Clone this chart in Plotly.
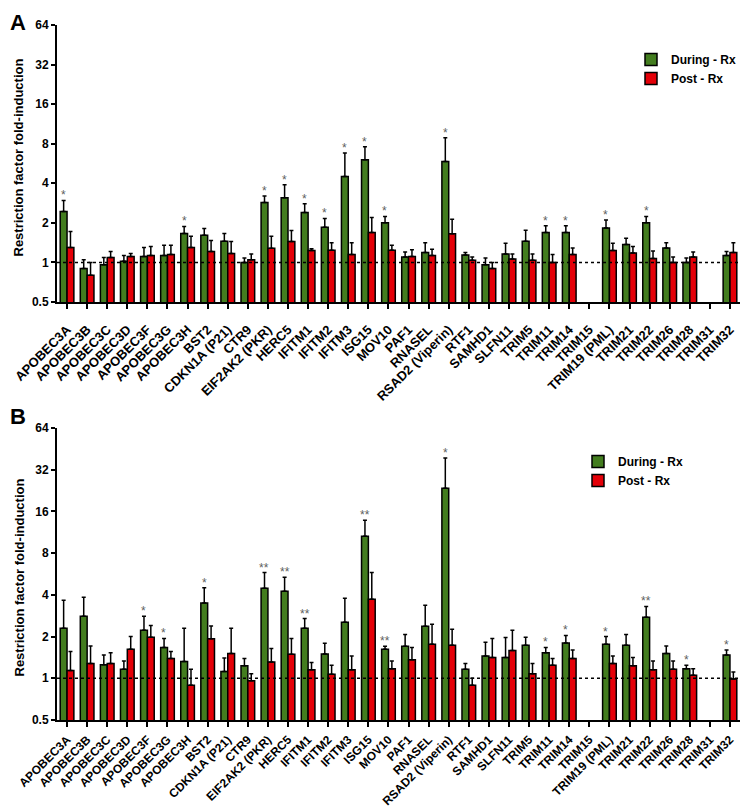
import plotly.graph_objects as go
import math

categories = ["APOBEC3A", "APOBEC3B", "APOBEC3C", "APOBEC3D", "APOBEC3F", "APOBEC3G", "APOBEC3H",
              "BST2", "CDKN1A (P21)", "CTR9", "EIF2AK2 (PKR)", "HERC5", "IFITM1", "IFITM2", "IFITM3",
              "ISG15", "MOV10", "PAF1", "RNASEL", "RSAD2 (Viperin)", "RTF1", "SAMHD1", "SLFN11",
              "TRIM5", "TRIM11", "TRIM14", "TRIM15", "TRIM19 (PML)", "TRIM21", "TRIM22", "TRIM26",
              "TRIM28", "TRIM31", "TRIM32"]

# Panel A
a_during     = [2.44, 0.90, 0.96, 1.02, 1.11, 1.13, 1.66, 1.61, 1.45, 1.00, 2.86, 3.10, 2.40, 1.85, 4.50, 6.05, 2.00,
                1.10, 1.19, 5.85, 1.14, 0.96, 1.16, 1.45, 1.69, 1.69, None, 1.83, 1.37, 2.00, 1.29, 1.00, None, 1.13]
a_during_top = [2.96, 1.05, 1.09, 1.13, 1.30, 1.35, 1.88, 1.81, 1.66, 1.08, 3.20, 3.90, 2.80, 2.16, 6.80, 7.60, 2.24,
                1.20, 1.41, 8.90, 1.19, 1.08, 1.40, 1.76, 1.90, 1.90, None, 2.10, 1.53, 2.24, 1.41, 1.08, None, 1.21]
a_post       = [1.30, 0.80, 1.09, 1.11, 1.13, 1.15, 1.30, 1.21, 1.17, 1.05, 1.28, 1.44, 1.23, 1.24, 1.15, 1.69, 1.24,
                1.11, 1.13, 1.65, 1.04, 0.90, 1.06, 1.04, 1.00, 1.15, None, 1.23, 1.18, 1.07, 1.00, 1.10, None, 1.19]
a_post_top   = [1.72, 1.00, 1.21, 1.17, 1.32, 1.35, 1.58, 1.47, 1.44, 1.16, 1.58, 1.75, 1.27, 1.41, 1.41, 2.20, 1.35,
                1.25, 1.26, 2.13, 1.10, 1.00, 1.16, 1.16, 1.15, 1.29, None, 1.40, 1.32, 1.22, 1.10, 1.20, None, 1.41]
a_sig = ["*", "", "", "", "", "", "*", "", "", "", "*", "*", "*", "*", "*", "*", "*",
         "", "", "*", "", "", "", "", "*", "*", "", "*", "", "*", "", "", "", ""]

# Panel B
b_during     = [2.30, 2.80, 1.25, 1.16, 2.22, 1.67, 1.32, 3.50, 1.12, 1.23, 4.46, 4.25, 2.30, 1.50, 2.54, 10.6, 1.62,
                1.70, 2.37, 23.5, 1.16, 1.45, 1.41, 1.73, 1.53, 1.80, None, 1.76, 1.73, 2.76, 1.51, 1.17, None, 1.47]
b_during_top = [3.66, 3.84, 1.47, 1.33, 2.80, 1.94, 2.30, 4.50, 1.40, 1.39, 5.80, 5.36, 2.70, 1.79, 3.78, 13.8, 1.70,
                2.07, 3.36, 38.8, 1.28, 1.82, 1.97, 1.98, 1.67, 2.04, None, 2.00, 2.07, 3.30, 1.71, 1.24, None, 1.60]
b_post       = [1.14, 1.28, 1.28, 1.62, 1.98, 1.39, 0.89, 1.93, 1.51, 0.96, 1.31, 1.49, 1.15, 1.07, 1.15, 3.72, 1.17,
                1.36, 1.76, 1.73, 0.89, 1.41, 1.59, 1.08, 1.24, 1.39, None, 1.28, 1.23, 1.15, 1.16, 1.05, None, 0.99]
b_post_top   = [1.56, 1.71, 1.53, 2.00, 2.40, 1.56, 1.16, 2.38, 2.30, 1.08, 1.64, 1.94, 1.30, 1.24, 1.45, 5.80, 1.33,
                1.67, 2.45, 2.26, 1.00, 1.94, 2.22, 1.28, 1.39, 1.60, None, 1.45, 1.41, 1.33, 1.33, 1.17, None, 1.11]
b_sig = ["", "", "", "", "*", "*", "", "*", "", "", "**", "**", "**", "", "", "**", "**",
         "", "", "*", "", "", "", "", "*", "*", "", "*", "", "**", "", "*", "", "*"]

series_names = ["During - Rx", "Post - Rx"]
tick_vals = [0.5, 1, 2, 4, 8, 16, 32, 64]
tick_text = ["0.5", "1", "2", "4", "8", "16", "32", "64"]
y_title = "Restriction factor fold-induction"

GREEN = "#437d1f"
RED = "#e40008"
FONT = "Liberation Sans, Arial, sans-serif"

W, H, OFF = 742, 803, 8  # page body margin offset


def fx(px):
    return (px - OFF) / W


def fy(py):
    return 1 - (py - OFF) / H


def errs(vals, tops):
    return [None if v is None else t - v for v, t in zip(vals, tops)]


fig = go.Figure()

panels = [
    ("x", "y", "legend", a_during, a_during_top, a_post, a_post_top, a_sig),
    ("x2", "y2", "legend2", b_during, b_during_top, b_post, b_post_top, b_sig),
]
for xa, ya, lg, d, dt, p, pt, sig in panels:
    for name, vals, tops, col in [(series_names[0], d, dt, GREEN), (series_names[1], p, pt, RED)]:
        fig.add_trace(go.Bar(
            x=categories, y=vals, name=name, xaxis=xa, yaxis=ya, legend=lg,
            marker=dict(color=col, line=dict(color="black", width=1.5)),
            error_y=dict(type="data", symmetric=False, array=errs(vals, tops),
                         arrayminus=[0] * len(vals), color="black", thickness=1.5, width=2),
        ))
    for c, s, t in zip(categories, sig, dt):
        if s and t is not None:
            fig.add_annotation(x=c, y=math.log10(t), xref=xa, yref=ya, text=s, showarrow=False,
                               xshift=-3.5, yshift=-4, yanchor="bottom",
                               font=dict(family=FONT, size=12, color="#606060"))
    fig.add_shape(type="line", xref=xa + " domain", yref=ya, x0=0, x1=1, y0=1, y1=1,
                  line=dict(color="black", width=1.5, dash="dot"))

xdom = [fx(57), fx(740)]
ydomA = [fy(302), fy(25)]
ydomB = [fy(720), fy(428)]

xax = dict(domain=xdom, showline=True, linecolor="black", linewidth=2, ticks="outside",
           ticklen=5, tickwidth=1.5, tickcolor="black", tickangle=-45, automargin=False,
           showgrid=False, range=[-0.5, len(categories) - 0.5])
yax = dict(type="log", range=[math.log10(0.5), math.log10(64)], tickvals=tick_vals, ticktext=tick_text,
           showline=True, linecolor="black", linewidth=2, ticks="outside", ticklen=4, tickwidth=2,
           tickcolor="black", showgrid=False, zeroline=False, automargin=False,
           tickfont=dict(family=FONT, size=12, color="black", weight="bold"))

fig.update_layout(
    width=W, height=H, margin=dict(l=0, r=0, t=0, b=0, autoexpand=False),
    paper_bgcolor="white", plot_bgcolor="white",
    barmode="group", bargap=0.32, bargroupgap=0.0,
    xaxis=dict(xax, anchor="y", ticklabelstandoff=8,
               tickfont=dict(family=FONT, size=13, color="black", weight="bold")),
    yaxis=dict(yax, domain=ydomA, anchor="x"),
    xaxis2=dict(xax, anchor="y2", ticklabelstandoff=1,
                tickfont=dict(family=FONT, size=12, color="black", weight="bold")),
    yaxis2=dict(yax, domain=ydomB, anchor="x2"),
    legend=dict(x=fx(631), y=fy(45), xanchor="left", yanchor="top", bgcolor="rgba(0,0,0,0)",
                font=dict(family=FONT, size=12, color="black", weight="bold"), tracegroupgap=0),
    legend2=dict(x=fx(578), y=fy(447), xanchor="left", yanchor="top", bgcolor="rgba(0,0,0,0)",
                 font=dict(family=FONT, size=12, color="black", weight="bold"), tracegroupgap=0),
    showlegend=True,
)
for y_c in (158, 578):
    fig.add_annotation(text=y_title, x=fx(9), y=fy(y_c), xref="paper", yref="paper", showarrow=False,
                       textangle=-90, xanchor="left", yanchor="middle",
                       font=dict(family=FONT, size=13, color="black", weight="bold"))
fig.add_annotation(text="A", x=0, y=1, xref="paper", yref="paper", showarrow=False,
                   xanchor="left", yanchor="top", font=dict(family=FONT, size=22, color="black", weight="bold"))
fig.add_annotation(text="B", x=0, y=fy(402), xref="paper", yref="paper", showarrow=False,
                   xanchor="left", yanchor="top", font=dict(family=FONT, size=22, color="black", weight="bold"))

fig.write_html("out.html")
